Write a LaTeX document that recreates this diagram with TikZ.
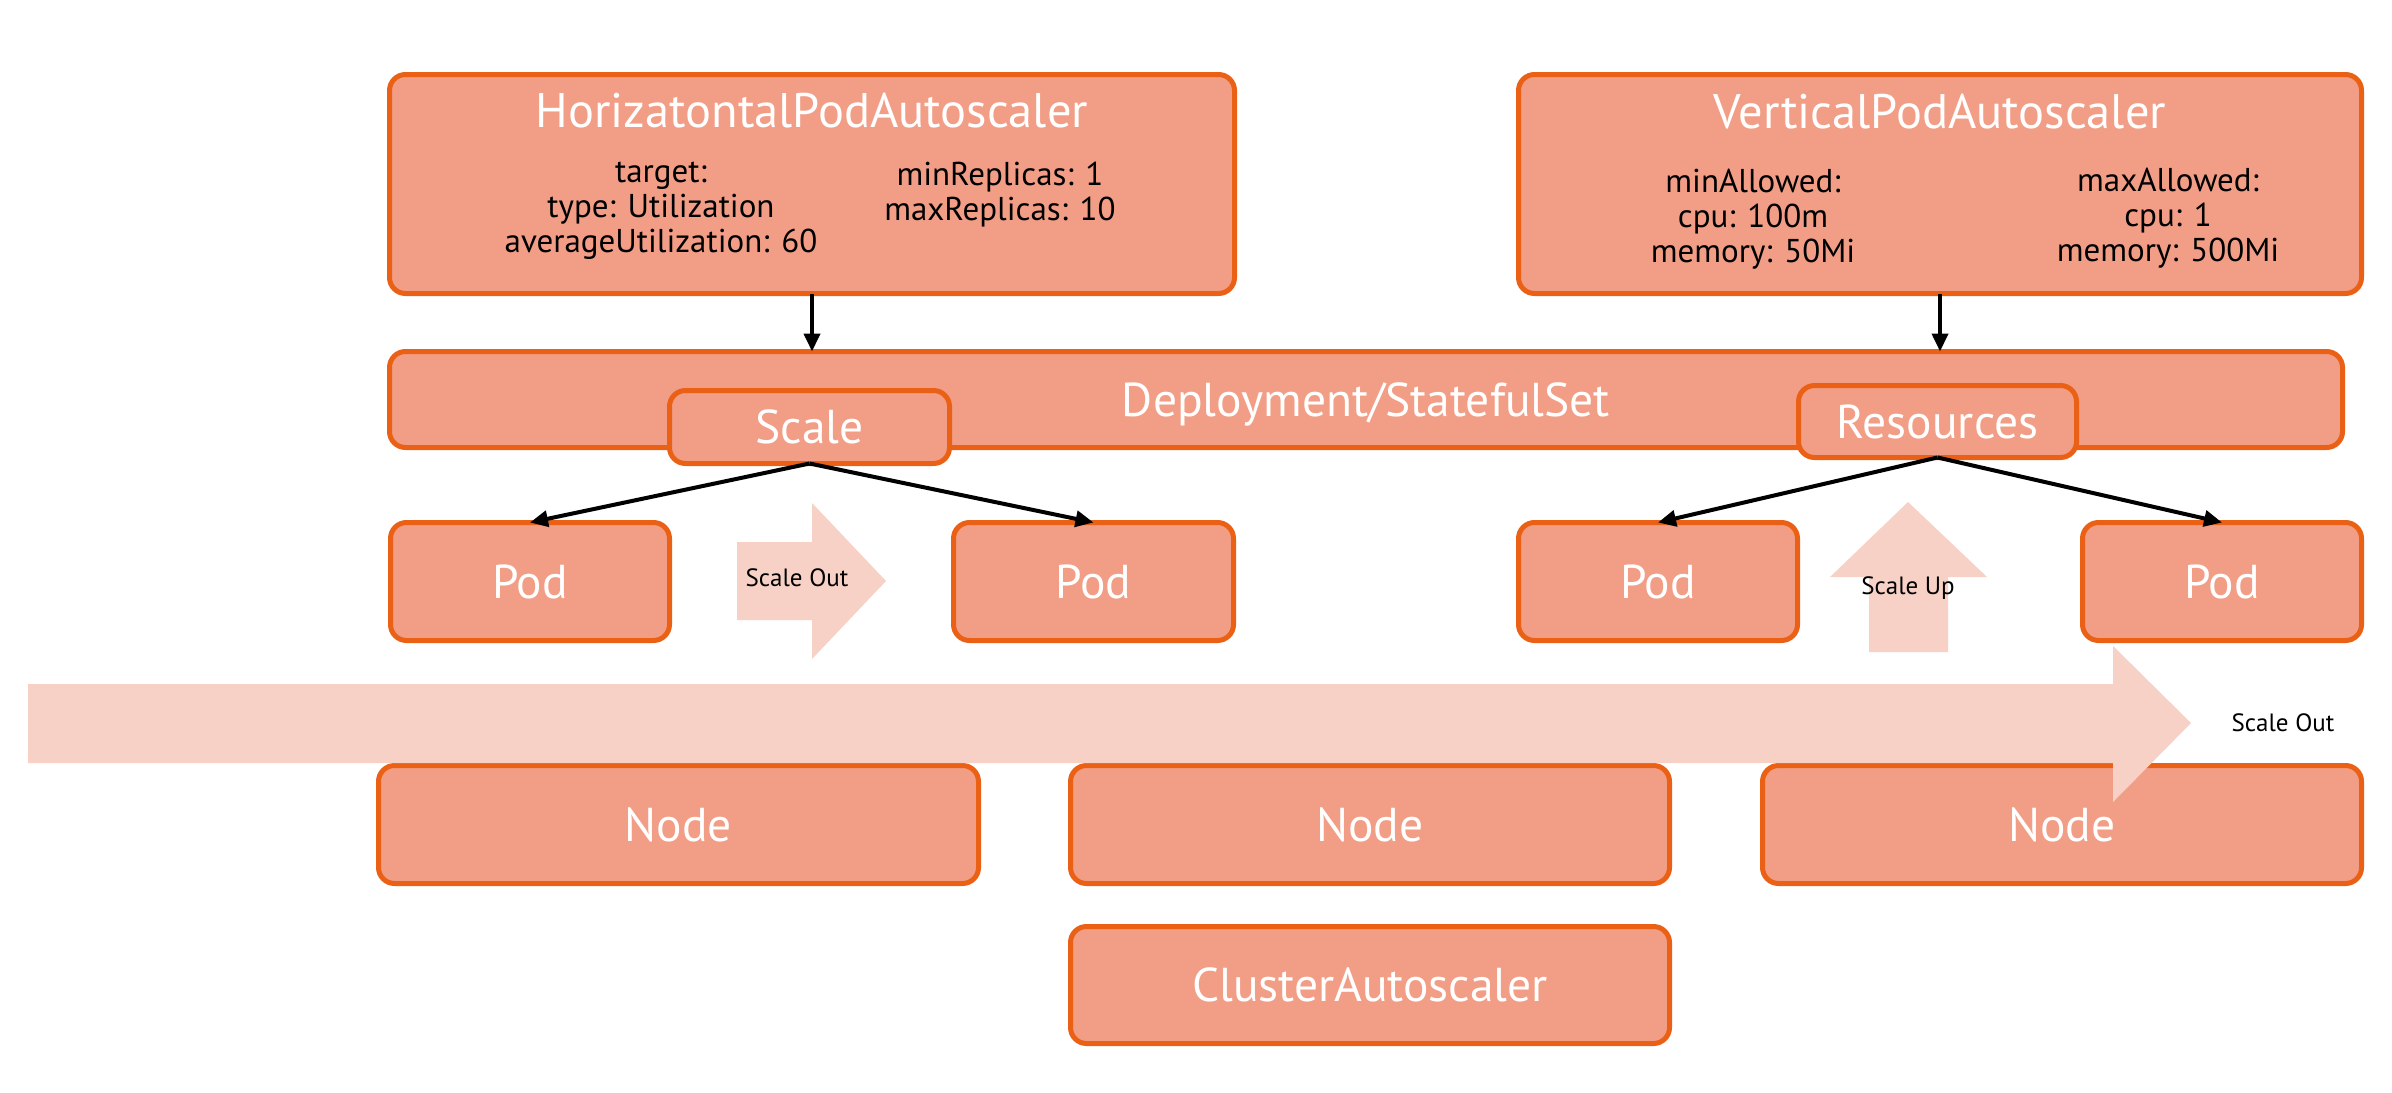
\documentclass[tikz,border=0pt]{standalone}
\usepackage{fontspec}
\setmainfont{PT Sans}
\usetikzlibrary{arrows.meta}
\definecolor{boxfill}{HTML}{F29E86}
\definecolor{boxline}{HTML}{EA6116}
\definecolor{hintfill}{HTML}{F7D1C6}
\begin{document}
\begin{tikzpicture}[x=1pt, y=-1pt,
    box/.style={rectangle, rounded corners=16pt, draw=boxline, fill=boxfill, line width=5pt,
        text=white, font=\fontsize{47.5}{56}\selectfont, text depth=0pt, inner sep=0pt, outer sep=0pt},
    title/.style={text=white, font=\fontsize{48.5}{56}\selectfont, text depth=0pt, inner sep=0pt},
    spec/.style={align=center, text=black, font=\fontsize{33}{35}\selectfont, inner sep=0pt},
    hint/.style={text=black, font=\fontsize{25}{30}\selectfont, inner sep=0pt},
    link/.style={-{Triangle[length=18pt,width=16pt]}, line width=4pt, black}]

    \useasboundingbox (0,0) rectangle (2392,1092);

    \node[box, minimum width=845pt, minimum height=219pt] (hpa) at (812, 184) {};
    \node[title] (hpatitle) at (812, 110) {HorizatontalPodAutoscaler};
    \node[spec] (hpatarget) at (661, 211) {target:\\type: Utilization\\averageUtilization: 60};
    \node[spec] (hpareplicas) at (1000, 195) {minReplicas: 1\\maxReplicas: 10};

    \node[box, minimum width=843pt, minimum height=219pt] (vpa) at (1940, 184) {};
    \node[title] (vpatitle) at (1940, 111) {VerticalPodAutoscaler};
    \node[spec] (vpamin) at (1753, 219) {minAllowed:\\cpu: 100m\\memory: 50Mi};
    \node[spec] (vpamax) at (2168, 218) {maxAllowed:\\cpu: 1\\memory: 500Mi};

    \node[box, minimum width=1953pt, minimum height=96pt] (deploy) at (1366, 399.5) {Deployment/StatefulSet};
    \node[box, minimum width=280pt, minimum height=73pt] (scale) at (809.5, 427) {Scale};
    \node[box, minimum width=278pt, minimum height=72pt] (resources) at (1937.5, 421.5) {Resources};

    \node[box, minimum width=279pt, minimum height=118pt] (pod1) at (530, 581.5) {Pod};
    \node[box, minimum width=280pt, minimum height=118pt] (pod2) at (1093.5, 581.5) {Pod};
    \node[box, minimum width=279pt, minimum height=118pt] (pod3) at (1658, 581.5) {Pod};
    \node[box, minimum width=279pt, minimum height=118pt] (pod4) at (2222, 581.5) {Pod};

    \node[box, minimum width=600pt, minimum height=118pt] (node1) at (678.5, 824.5) {Node};
    \node[box, minimum width=599pt, minimum height=118pt] (node2) at (1370, 824.5) {Node};
    \node[box, minimum width=599pt, minimum height=118pt] (node3) at (2062, 824.5) {Node};
    \node[box, minimum width=599pt, minimum height=117pt] (cluster) at (1370, 985) {ClusterAutoscaler};

    \fill[hintfill] (737,542) -- (812,542) -- (812,503) -- (886,581) -- (812,659) -- (812,620) -- (737,620) -- cycle;
    \fill[hintfill] (1869,652) -- (1869,577) -- (1830,577) -- (1908,502) -- (1987,577) -- (1948,577) -- (1948,652) -- cycle;
    \fill[hintfill] (28,684) -- (2113,684) -- (2113,646) -- (2191,723) -- (2113,802) -- (2113,763) -- (28,763) -- cycle;

    \node[hint] (scaleout) at (797, 578) {Scale Out};
    \node[hint] (scaleup) at (1908, 588) {Scale Up};
    \node[hint] (nodeout) at (2283, 723) {Scale Out};

    \draw[link] (hpa.south) -- (hpa.south |- deploy.north);
    \draw[link] (vpa.south) -- (vpa.south |- deploy.north);
    \path[link]
        (scale.south) edge (pod1.north)
        (scale.south) edge (pod2.north)
        (resources.south) edge (pod3.north)
        (resources.south) edge (pod4.north)
    ;
\end{tikzpicture}
\end{document}
